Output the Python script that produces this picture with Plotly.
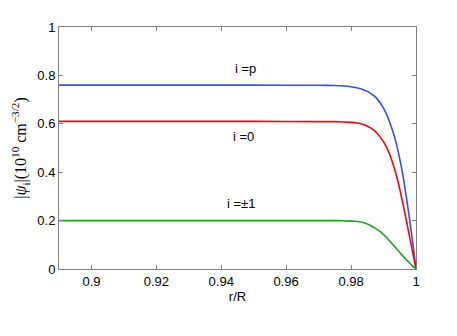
import plotly.graph_objects as go

# r/R grid near the wall, and |psi_i| for each curve
r = [0.89, 0.95, 0.97, 0.975, 0.98, 0.982, 0.983, 0.984, 0.985, 0.986, 0.987,
     0.988, 0.989, 0.990, 0.991, 0.992, 0.993, 0.994, 0.995, 0.996, 0.997,
     0.998, 0.999, 1.0]
psi_p = [0.760, 0.760, 0.759, 0.758, 0.753, 0.748, 0.745, 0.740, 0.734, 0.726, 0.716,
         0.703, 0.686, 0.664, 0.637, 0.603, 0.563, 0.515, 0.455, 0.385, 0.300,
         0.208, 0.108, 0.0]
psi_0 = [0.610, 0.610, 0.609, 0.609, 0.606, 0.603, 0.600, 0.596, 0.590, 0.583, 0.574,
         0.561, 0.545, 0.525, 0.501, 0.470, 0.430, 0.385, 0.330, 0.268, 0.202,
         0.135, 0.068, 0.0]
psi_pm1 = [0.200, 0.200, 0.200, 0.200, 0.198, 0.196, 0.194, 0.191, 0.186, 0.180, 0.172,
           0.164, 0.154, 0.142, 0.129, 0.114, 0.099, 0.084, 0.068, 0.053, 0.039,
           0.025, 0.012, 0.0]

labels = ["i =p", "i =0", "i =\u00b11"]
label_x = [0.9474, 0.9468, 0.9462]
label_y = [0.83, 0.549, 0.269]

fig = go.Figure()
for ys, col in [(psi_p, "#3050ff"), (psi_0, "#ff0000"), (psi_pm1, "#1aa51a")]:
    fig.add_trace(go.Scatter(x=r, y=ys, mode="lines",
                             line=dict(color=col, width=1.6, shape="spline", smoothing=0.3),
                             hoverinfo="skip", showlegend=False))

for txt, xx, yy in zip(labels, label_x, label_y):
    fig.add_annotation(x=xx, y=yy, text=txt, showarrow=False,
                       font=dict(family="Liberation Sans, Arial", size=13, color="black"))

axis_style = dict(showline=True, linecolor="#808080", linewidth=1, mirror="ticks",
                  ticks="inside", ticklen=4, tickcolor="#808080", showgrid=False,
                  zeroline=False, tickfont=dict(family="Liberation Sans, Arial", size=13, color="black"))

# the page body has an 8px margin, so the figure is shifted by 8px
fig.update_layout(
    width=449, height=328,
    margin=dict(l=47, r=41, t=17, b=67),
    plot_bgcolor="white", paper_bgcolor="white",
    xaxis=dict(range=[0.89, 1.0], tick0=0.9, dtick=0.02,
               title=dict(text="r/R", standoff=2,
                          font=dict(family="Liberation Sans, Arial", size=13, color="black")),
               **axis_style),
    yaxis=dict(range=[0, 1], tick0=0, dtick=0.2,
               title=dict(text="|<i>\u03c8</i><sub>i</sub>|(10<sup>10</sup> cm<sup>\u22123/2</sup>)",
                          standoff=6,
                          font=dict(family="Liberation Serif, DejaVu Serif", size=16, color="black")),
               **axis_style),
)

fig.write_html("out.html")
